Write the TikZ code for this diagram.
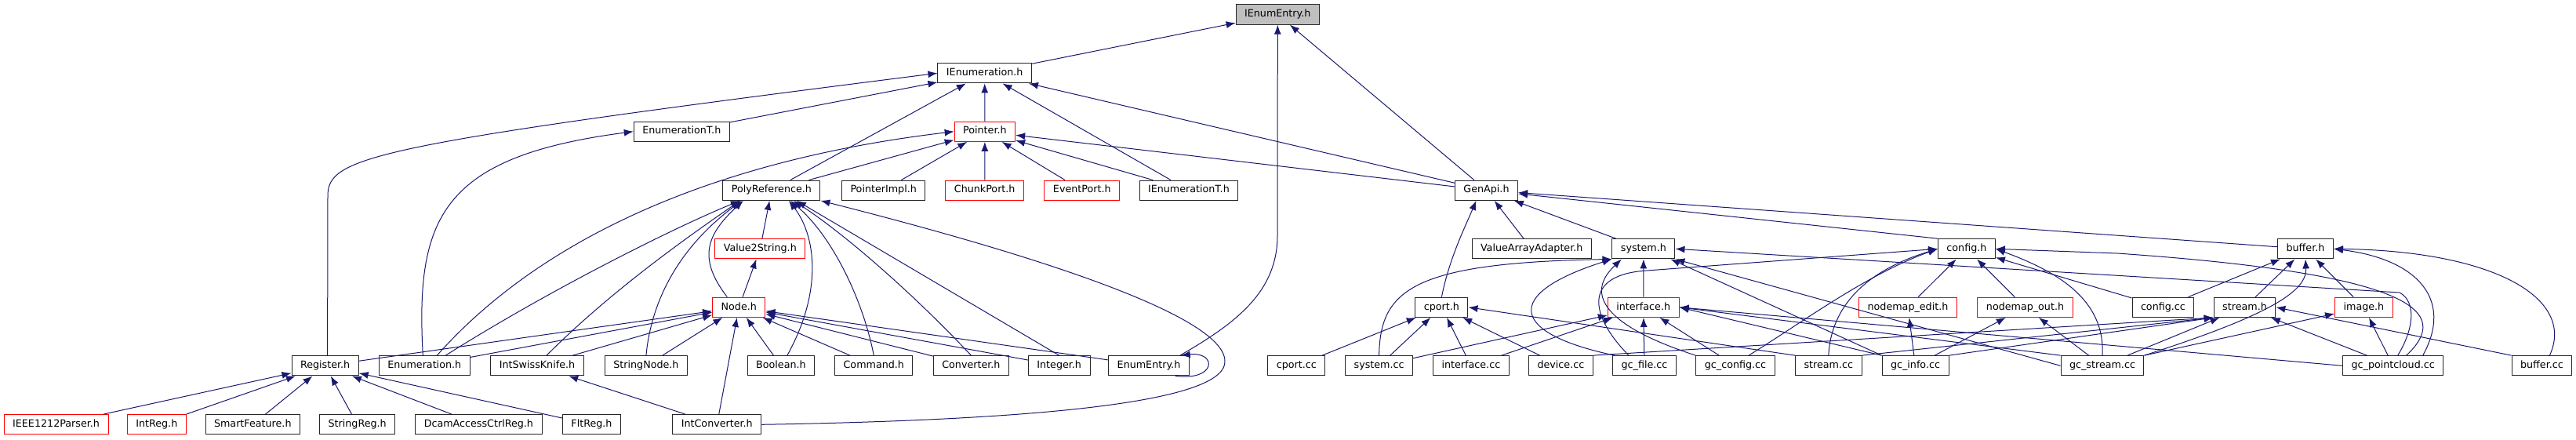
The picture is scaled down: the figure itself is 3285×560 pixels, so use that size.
\documentclass[tikz,border=0pt]{standalone}
\usepackage{fontspec}
\setmainfont{DejaVu Sans}
\usetikzlibrary{arrows.meta, positioning, calc}
\usepackage{xcolor}
\definecolor{EdgeBlue}{rgb}{0.1, 0.1, 0.44}
\definecolor{BoxRed}{rgb}{1, 0, 0}

\begin{document}
\begin{tikzpicture}[x=1pt, y=-1pt]
	\tikzstyle{hdr} = [
	draw=black!85,
	line width=1pt,
	rectangle,
	inner xsep=11pt,
	minimum height=25.3pt,
	text height=9.2pt,
	text depth=2.8pt,
	font=\fontsize{12.7}{15}\selectfont
	]
	\tikzstyle{cut} = [hdr, draw=BoxRed]
	\tikzstyle{dep} = [draw=EdgeBlue, line width=1pt, -{Latex[length=12pt, width=9pt]}]
	\useasboundingbox (0,0) rectangle (3285,560);
	
	% top of the graph
	\node[hdr, fill=black!25] (ienumentry) at (1629.3,18.5) {IEnumEntry.h};
	\node[hdr] (ienum) at (1255.7,93.3) {IEnumeration.h};
	\node[hdr] (enumt) at (869.3,167.7) {EnumerationT.h};
	\node[cut] (pointer) at (1255.9,167.7) {Pointer.h};
	\node[hdr] (polyref) at (983.9,242.7) {PolyReference.h};
	\node[hdr] (pimpl) at (1126.7,242.7) {PointerImpl.h};
	\node[cut] (chunk) at (1255.7,242.7) {ChunkPort.h};
	\node[cut] (event) at (1379.8,242.7) {EventPort.h};
	\node[hdr] (ienumt) at (1515.9,242.7) {IEnumerationT.h};
	\node[hdr] (genapi) at (1895.5,242.7) {GenApi.h};
	\node[cut] (v2s) at (969.3,317.3) {Value2String.h};
	\node[hdr] (vaa) at (1953.2,317.3) {ValueArrayAdapter.h};
	\node[hdr] (sysh) at (2095.9,317.3) {system.h};
	\node[hdr] (configh) at (2507.9,317.3) {config.h};
	\node[hdr] (bufferh) at (2940,317.3) {buffer.h};
	\node[cut] (nodeh) at (942.3,391.8) {Node.h};
	\node[hdr] (cporth) at (1838.4,391.8) {cport.h};
	\node[cut] (ifaceh) at (2095.7,391.8) {interface.h};
	\node[cut] (nedit) at (2433,391.8) {nodemap\_edit.h};
	\node[cut] (nout) at (2582.5,391.8) {nodemap\_out.h};
	\node[hdr] (configcc) at (2758.4,391.8) {config.cc};
	\node[hdr] (streamh) at (2862.5,391.8) {stream.h};
	\node[cut] (imageh) at (3014.4,391.8) {image.h};
	
	% row of includers
	\node[hdr] (register) at (414.6,466.3) {Register.h};
	\node[hdr] (enumh) at (541.3,466.3) {Enumeration.h};
	\node[hdr] (swiss) at (685,466.3) {IntSwissKnife.h};
	\node[hdr] (strnode) at (823.9,466.3) {StringNode.h};
	\node[hdr] (boolh) at (995.9,466.3) {Boolean.h};
	\node[hdr] (command) at (1114.3,466.3) {Command.h};
	\node[hdr] (converter) at (1238.4,466.3) {Converter.h};
	\node[hdr] (integer) at (1350.7,466.3) {Integer.h};
	\node[hdr] (enumentry) at (1465,466.3) {EnumEntry.h};
	\node[hdr] (cportcc) at (1653.4,466.3) {cport.cc};
	\node[hdr] (syscc) at (1758.6,466.3) {system.cc};
	\node[hdr] (ifacecc) at (1875.9,466.3) {interface.cc};
	\node[hdr] (devicecc) at (1990.4,466.3) {device.cc};
	\node[hdr] (gcfile) at (2097,466.3) {gc\_file.cc};
	\node[hdr] (gcconfig) at (2213,466.3) {gc\_config.cc};
	\node[hdr] (streamcc) at (2331.8,466.3) {stream.cc};
	\node[hdr] (gcinfo) at (2442.5,466.3) {gc\_info.cc};
	\node[hdr] (gcstream) at (2681,466.3) {gc\_stream.cc};
	\node[hdr] (gcpc) at (3051.7,466.3) {gc\_pointcloud.cc};
	\node[hdr] (buffercc) at (3241.4,466.3) {buffer.cc};
	\node[cut] (ieee) at (71.6,541.3) {IEEE1212Parser.h};
	\node[cut] (intreg) at (199.8,541.3) {IntReg.h};
	\node[hdr] (smart) at (322.3,541.3) {SmartFeature.h};
	\node[hdr] (strreg) at (455.7,541.3) {StringReg.h};
	\node[hdr] (dcam) at (610.4,541.3) {DcamAccessCtrlReg.h};
	\node[hdr] (fltreg) at (754.5,541.3) {FltReg.h};
	\node[hdr] (intconv) at (914.3,541.3) {IntConverter.h};
	
	% IEnumEntry.h
	\draw[dep] (ienum) to (ienumentry);
	\draw[dep] (genapi) to (ienumentry);
	\draw[dep] ([xshift=-12pt]enumentry.north east) .. controls (1580,410) and (1629,370) .. (1629,300) -- (ienumentry.south);
	\draw[dep] ([xshift=-18pt]enumentry.south east) .. controls (1552,486) and (1552,448) .. ([xshift=-11pt]enumentry.north east);
	
	% IEnumeration.h
	\draw[dep] ([xshift=3pt]register.north) -- (418,250) .. controls (418,200) and (470,185) .. (ienum.west);
	\draw[dep] (enumt) to (ienum);
	\draw[dep] (polyref) to (ienum);
	\draw[dep] (pointer) to (ienum);
	\draw[dep] (ienumt) to (ienum);
	\draw[dep] (genapi) to (ienum);
	\draw[dep] ([xshift=-2pt]enumh.north) .. controls (530,280) and (560,200) .. (enumt.west);
	
	% Pointer.h
	\draw[dep] ([xshift=16pt]enumh.north) .. controls (640,360) and (820,215) .. (pointer.west);
	\draw[dep] (polyref) to (pointer);
	\draw[dep] (pimpl) to (pointer);
	\draw[dep] (chunk) to (pointer);
	\draw[dep] (event) to (pointer);
	\draw[dep] (ienumt) to (pointer);
	\draw[dep] (genapi) to (pointer);
	
	% PolyReference.h
	\draw[dep] ([xshift=27pt]enumh.north) .. controls (700,370) and (860,290) .. ([xshift=-40pt]polyref.south);
	\draw[dep] ([xshift=12pt]swiss.north) .. controls (780,370) and (880,300) .. ([xshift=-40pt]polyref.south);
	\draw[dep] (strnode.north) .. controls (830,390) and (860,320) .. ([xshift=-38pt]polyref.south);
	\draw[dep] ([xshift=-15pt]nodeh.north) .. controls (890,330) and (900,300) .. ([xshift=-36pt]polyref.south);
	\draw[dep] (v2s) to (polyref);
	\draw[dep] ([xshift=8pt]boolh.north) .. controls (1050,370) and (1040,300) .. ([xshift=22pt]polyref.south);
	\draw[dep] (command.north) .. controls (1100,380) and (1060,300) .. ([xshift=24pt]polyref.south);
	\draw[dep] (converter.north) .. controls (1170,380) and (1080,300) .. ([xshift=28pt]polyref.south);
	\draw[dep] (integer.north) to ([xshift=32pt]polyref.south);
	\draw[dep] (intconv.east) .. controls (1350,535) and (1565,510) .. (1562,460) .. controls (1560,400) and (1300,320) .. (polyref.south east);
	\draw[dep] (nodeh) to (v2s);
	
	% Node.h
	\draw[dep] (register) to (nodeh);
	\draw[dep] (enumh) to (nodeh);
	\draw[dep] (swiss) to (nodeh);
	\draw[dep] (strnode) to (nodeh);
	\draw[dep] (boolh) to (nodeh);
	\draw[dep] (command) to (nodeh);
	\draw[dep] (converter) to (nodeh);
	\draw[dep] (integer) to (nodeh);
	\draw[dep] (enumentry) to (nodeh);
	\draw[dep] (intconv) to (nodeh);
	\draw[dep] (intconv) to (swiss);
	
	% Register.h
	\foreach \reg in {ieee, intreg, smart, strreg, dcam, fltreg}
	\draw[dep] (\reg) to (register);
	
	% GenApi.h
	\draw[dep] (cporth.north) .. controls (1848,330) and (1868,290) .. ([xshift=-13pt]genapi.south);
	\draw[dep] (vaa) to (genapi);
	\draw[dep] (sysh) to (genapi);
	\draw[dep] (configh.north west) to (genapi);
	\draw[dep] (bufferh) to (genapi);
	
	% system.h
	\draw[dep] (ifaceh) to (sysh);
	\draw[dep] (syscc.north) .. controls (1760,370) and (1800,335) .. (sysh.south west);
	\draw[dep] ([xshift=-38pt]gcfile.north) .. controls (1925,425) and (1915,375) .. (sysh.south west);
	\draw[dep] (gcconfig.north west) .. controls (2060,420) and (2015,380) .. ([xshift=-28pt]sysh.south);
	\draw[dep] (gcinfo.north west) to ([xshift=-6pt]sysh.south east);
	\draw[dep] (gcstream.west) to (sysh.south east);
	\draw[dep] ([xshift=6pt]gcpc.north) .. controls (3078,420) and (3082,385) .. (3060,373) -- (sysh.east);
	
	% cport.h and interface.h
	\foreach \cpp in {cportcc, syscc, ifacecc, devicecc}
	\draw[dep] (\cpp) to (cporth);
	\draw[dep] (streamcc.north west) to (cporth.east);
	\foreach \cpp in {syscc, ifacecc, gcfile, gcconfig}
	\draw[dep] (\cpp) to (ifaceh);
	\draw[dep] (gcinfo.north west) to (ifaceh.east);
	\draw[dep] (gcstream.north west) to (ifaceh.east);
	\draw[dep] (gcpc.west) to (ifaceh.east);
	
	% config.h
	\draw[dep] ([xshift=-20pt]gcfile.north) .. controls (2025,400) and (2020,350) .. (2100,345) -- (configh.west);
	\draw[dep] ([xshift=17pt]gcconfig.north) .. controls (2300,410) and (2380,350) .. (configh.west);
	\draw[dep] (streamcc.north) .. controls (2335,390) and (2380,345) .. (configh.west);
	\draw[dep] (nedit) to (configh);
	\draw[dep] (nout) to (configh);
	\draw[dep] (configcc) to (configh);
	\draw[dep] (gcstream.north) .. controls (2685,380) and (2620,345) .. (configh.east);
	\draw[dep] ([xshift=17pt]gcpc.north) .. controls (3125,400) and (3090,350) .. (2700,323) -- (configh.east);
	\draw[dep] (gcinfo) to (nedit);
	\draw[dep] (gcinfo) to (nout);
	\draw[dep] (gcstream) to (nout);
	
	% stream.h, buffer.h, image.h
	\foreach \cpp in {devicecc, streamcc, gcinfo}
	\draw[dep] (\cpp.north east) to (streamh.south west);
	\draw[dep] (gcstream) to (streamh);
	\draw[dep] (gcpc) to (streamh);
	\draw[dep] (buffercc.north west) to (streamh.east);
	\draw[dep] (configcc) to (bufferh);
	\draw[dep] (streamh) to (bufferh);
	\draw[dep] (imageh) to (bufferh);
	\draw[dep] (gcstream.north east) .. controls (2900,400) and (2942,370) .. (bufferh.south);
	\draw[dep] ([xshift=38pt]gcpc.north) .. controls (3130,380) and (3080,330) .. (bufferh.east);
	\draw[dep] ([xshift=10pt]buffercc.north) .. controls (3285,380) and (3180,320) .. (bufferh.east);
	\draw[dep] (gcstream.north east) to (imageh);
	\draw[dep] (gcpc) to (imageh);
\end{tikzpicture}
\end{document}
